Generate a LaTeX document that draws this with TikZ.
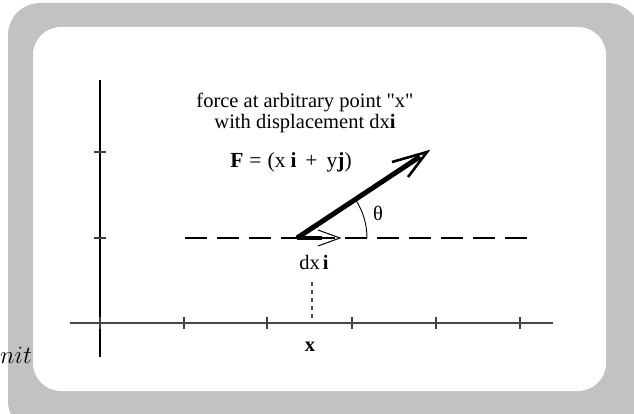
\documentclass[tikz,border=0pt]{standalone}
\usepackage{fontspec}
\setmainfont{Liberation Serif}
\begin{document}
\begin{tikzpicture}[x=1pt,y=1pt,
  lbl/.style={inner sep=0pt, font=\fontsize{20.5}{21}\selectfont},
  haxis/.style={draw=black!72, line width=2pt},
  vaxis/.style={draw=black, line width=1.3pt},
  tickmark/.style={draw=black!75, line width=1.2pt},
  guide/.style={draw=black, line width=1.1pt, dash pattern=on 21.5pt off 10.5pt},
  dropline/.style={draw=black!70, line width=1.2pt, dash pattern=on 4pt off 4pt},
  thickvec/.style={line width=5pt},
  headline/.style={line width=2.6pt, line join=miter},
  thinhead/.style={line width=1pt, line join=miter}]
\useasboundingbox (0,0) rectangle (634,413);
\begin{scope}
\clip (0,0) rectangle (634,413);
\fill[black!24, rounded corners=32pt] (8,-20) rectangle (640,410);
\fill[white, rounded corners=28pt] (33,22) rectangle (606,386);
\end{scope}
% axes
\coordinate (yb) at (100,56);
\coordinate (yt) at (100,333);
\coordinate (xl) at (70,90);
\coordinate (xr) at (553,90);
\draw[vaxis] (yb) -- (yt);
\draw[haxis] (xl) -- (xr);
\foreach \tx in {100,184,267,352,436,520}{
  \draw[tickmark] (\tx,84) -- (\tx,96);
}
\foreach \ty in {175,261}{
  \draw[tickmark] (94,\ty) -- (106,\ty);
}
% dashed guide
\coordinate (gl) at (185,175);
\coordinate (gr) at (528,175);
\draw[guide] (gl) -- (gr);
% origin of vectors
\coordinate (O) at (297,175);
% force vector
\coordinate (Ftip) at (427,261);
\coordinate (Fend) at (420,256.4);
\coordinate (Fb1) at (392,251);
\coordinate (Fb2) at (408,236);
\draw[thickvec] (O) -- (Fend);
\draw[headline] (Fb1) -- (Ftip) -- (Fb2);
% dx vector
\coordinate (dxend) at (322,175);
\coordinate (dxtip) at (340,175);
\coordinate (dxb1) at (318,183);
\coordinate (dxb2) at (318,167);
\draw[line width=4pt] (O) -- (dxend);
\draw[thinhead] (dxb1) -- (dxtip) -- (dxb2);
% angle arc
\coordinate (arcstart) at (367,175);
\draw[line width=0.9pt] (arcstart) arc[start angle=0, end angle=33.2, radius=70];
\node[lbl] (theta) at (378,200) {θ};
% drop line
\coordinate (dtop) at (312,131);
\coordinate (dbot) at (312,92);
\draw[dropline] (dtop) -- (dbot);
% labels
\node[lbl, align=center] (title) at (305,300) {force at arbitrary point \textquotedbl x\textquotedbl\\with displacement dx\textbf{i}};
\node[lbl, font=\fontsize{21.5}{22}\selectfont] (Flabel) at (291,251) {\textbf{F}\hspace{6pt}=\hspace{6pt}(x\hspace{5pt}\textbf{i}\hspace{9pt}+\hspace{9pt}y\textbf{j})};
\node[lbl] (dxlabel) at (314,151) {dx\hspace{3pt}\textbf{i}};
\node[lbl] (xlabel) at (310,66) {\textbf{x}};
\node[inner sep=0pt, anchor=base west, font=\fontsize{30}{32}\selectfont] (nit) at (0,50) {$nit$};
\end{tikzpicture}
\end{document}
